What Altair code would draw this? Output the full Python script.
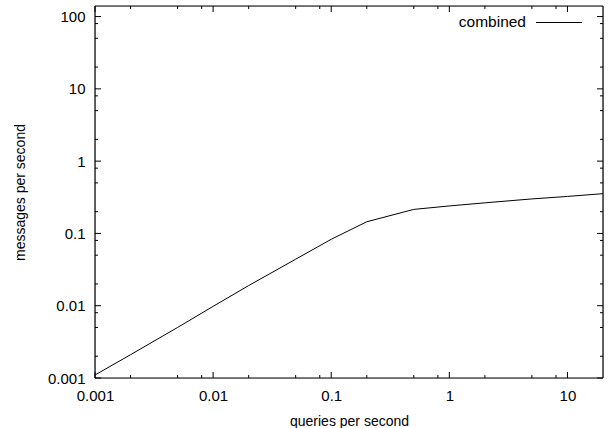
import altair as alt
import pandas as pd

# Measured traffic: queries per second vs. resulting messages per second
queries = [0.001, 0.002, 0.005, 0.01, 0.02, 0.05, 0.1, 0.2, 0.5, 1, 2, 5, 10, 20]
messages = [0.0011, 0.0021, 0.005, 0.0098, 0.019, 0.044, 0.083, 0.145, 0.215,
            0.24, 0.265, 0.3, 0.325, 0.355]
series_name = "combined"

# Tick positions for the log axes
x_major = [0.001, 0.01, 0.1, 1, 10]
x_minor = [0.002, 0.005, 0.008, 0.02, 0.05, 0.08, 0.2, 0.5, 0.8, 2, 5, 8]
y_major = [0.001, 0.01, 0.1, 1, 10, 100]
y_minor = [0.002, 0.005, 0.008, 0.02, 0.05, 0.08, 0.2, 0.5, 0.8,
           2, 5, 8, 20, 50, 80]

W, H = 508, 372
FONT = "Liberation Sans"
MAJOR, MINOR = 6, 3

data = pd.DataFrame({"q": queries, "m": messages, "series": series_name})

x_scale = alt.Scale(type="log", domain=[0.001, 20], nice=False)
y_scale = alt.Scale(type="log", domain=[0.001, 140], nice=False)

x_axis = alt.Axis(values=x_major, format="~g", ticks=False, domain=False,
                  grid=False, labelFont=FONT, labelFontSize=15,
                  labelColor="black", labelPadding=10, labelFlush=False,
                  title="queries per second", titleFont=FONT,
                  titleFontSize=14, titleFontWeight="normal",
                  titleColor="black", titlePadding=11)
y_axis = alt.Axis(values=y_major, format="~g", ticks=False, domain=False,
                  grid=False, labelFont=FONT, labelFontSize=15,
                  labelColor="black", labelPadding=10, labelFlush=False,
                  title="messages per second", titleFont=FONT,
                  titleFontSize=14, titleFontWeight="normal",
                  titleColor="black", titlePadding=20)

line = alt.Chart(data).mark_line(color="black", strokeWidth=1).encode(
    x=alt.X("q:Q", scale=x_scale, axis=x_axis),
    y=alt.Y("m:Q", scale=y_scale, axis=y_axis),
)


def x_ticks(values, length):
    df = pd.DataFrame({"q": values})
    base = alt.Chart(df).mark_rule(color="black", strokeWidth=1)
    bottom = base.encode(x=alt.X("q:Q", scale=x_scale),
                         y=alt.value(H), y2=alt.value(H - length))
    top = base.encode(x=alt.X("q:Q", scale=x_scale),
                      y=alt.value(0), y2=alt.value(length))
    return [bottom, top]


def y_ticks(values, length):
    df = pd.DataFrame({"m": values})
    base = alt.Chart(df).mark_rule(color="black", strokeWidth=1)
    left = base.encode(y=alt.Y("m:Q", scale=y_scale),
                       x=alt.value(0), x2=alt.value(length))
    right = base.encode(y=alt.Y("m:Q", scale=y_scale),
                        x=alt.value(W), x2=alt.value(W - length))
    return [left, right]


ticks = (x_ticks(x_major, MAJOR) + x_ticks(x_minor, MINOR)
         + y_ticks(y_major, MAJOR) + y_ticks(y_minor, MINOR))

# Frame around the plot area
frame_df = pd.DataFrame({"side": ["frame"]})
frame_base = alt.Chart(frame_df).mark_rule(color="black", strokeWidth=1.2)
frame = [
    frame_base.encode(x=alt.value(0), x2=alt.value(W), y=alt.value(0)),
    frame_base.encode(x=alt.value(0), x2=alt.value(W), y=alt.value(H)),
    frame_base.encode(y=alt.value(0), y2=alt.value(H), x=alt.value(0)),
    frame_base.encode(y=alt.value(0), y2=alt.value(H), x=alt.value(W)),
]

# Key in the upper right: label followed by a line sample
key_df = pd.DataFrame({"series": [series_name]})
key_text = alt.Chart(key_df).mark_text(
    align="right", baseline="middle", font=FONT, fontSize=15.5, color="black"
).encode(text="series:N", x=alt.value(431), y=alt.value(16))
key_line = alt.Chart(key_df).mark_rule(color="black", strokeWidth=1).encode(
    x=alt.value(441), x2=alt.value(487), y=alt.value(16.5),
    detail="series:N")

chart = alt.layer(line, *ticks, *frame, key_text, key_line).properties(
    width=W, height=H,
    autosize=alt.AutoSizeParams(type="none"),
    padding={"left": 95, "top": 6, "right": 10, "bottom": 50},
).configure_view(strokeWidth=0).configure(background="white")

chart.save("out.html", embed_options={"renderer": "svg", "actions": False})
